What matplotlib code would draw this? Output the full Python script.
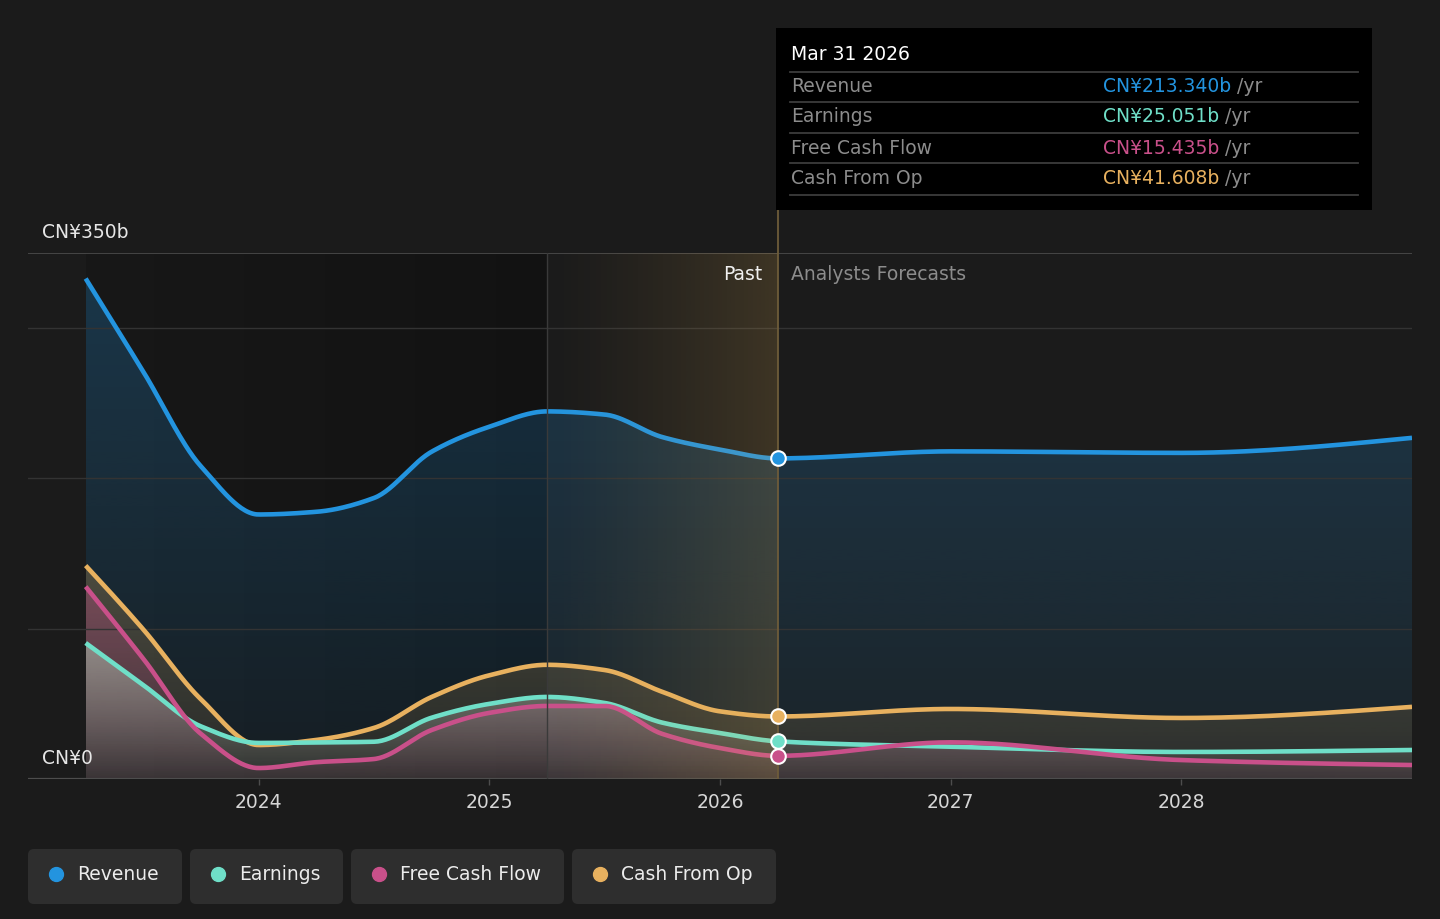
import numpy as np
import matplotlib
matplotlib.use('Agg')
import matplotlib.pyplot as plt
from matplotlib.patches import FancyBboxPatch, PathPatch
from matplotlib.path import Path
import matplotlib.colors as mcolors

# quarter ends (decimal years), past up to Mar 2026, then analyst forecasts
periods = [2023.25, 2023.5, 2023.75, 2024.0, 2024.25, 2024.5, 2024.75, 2025.0,
           2025.25, 2025.5, 2025.75, 2026.0, 2026.25, 2027.0, 2028.0, 2029.0]
revenue = [333, 271, 208, 176, 177.8, 187, 217.8, 234.4,
           244.6, 242.5, 227.5, 219.2, 213.34, 218, 217, 227]
earnings = [90.5, 62.5, 35, 24, 24.3, 24.8, 40.8, 50,
            54.6, 50.6, 37.5, 30.6, 25.051, 21.5, 18, 19.3]
fcf = [128, 80, 30, 7.3, 11.2, 13.3, 32.6, 44,
       48.6, 48.6, 30, 20.6, 15.435, 24.4, 12.6, 9.3]
cfo = [142, 99.5, 53, 22.6, 26, 34, 54.6, 69,
       76, 72.5, 58, 45, 41.608, 46.6, 40.6, 48]

names = ['Revenue', 'Earnings', 'Free Cash Flow', 'Cash From Op']
colors = ['#2394df', '#6fdfc8', '#c9508a', '#e8b15f']
tip_values = ['CN¥213.340b', 'CN¥25.051b', 'CN¥15.435b', 'CN¥41.608b']
tip_date = 'Mar 31 2026'
now = 2026.25
highlight_start = 2025.25
years = [2024, 2025, 2026, 2027, 2028]

BG = '#1b1b1b'
FS = 13.5


def monotone(x, y, n=30):
    # monotone cubic curve through the points (only for drawing)
    x = np.asarray(x, float)
    y = np.asarray(y, float)
    h = np.diff(x)
    d = np.diff(y) / h
    m = np.zeros_like(y)
    for i in range(1, len(y) - 1):
        if d[i - 1] * d[i] <= 0:
            m[i] = 0
        else:
            w1 = 2 * h[i] + h[i - 1]
            w2 = h[i] + 2 * h[i - 1]
            m[i] = (w1 + w2) / (w1 / d[i - 1] + w2 / d[i])
    m[0] = (3 * d[0] - m[1]) / 2
    m[-1] = (3 * d[-1] - m[-2]) / 2
    xs, ys = [], []
    for i in range(len(h)):
        s = np.linspace(0, 1, n, endpoint=(i == len(h) - 1))
        h00 = 2 * s**3 - 3 * s**2 + 1
        h10 = s**3 - 2 * s**2 + s
        h01 = -2 * s**3 + 3 * s**2
        h11 = s**3 - s**2
        xs.append(x[i] + s * h[i])
        ys.append(h00 * y[i] + h10 * h[i] * m[i] + h01 * y[i + 1] + h11 * h[i] * m[i + 1])
    return np.concatenate(xs), np.concatenate(ys)


def gradient_fill(ax, xs, ys, color, a_top, a_bot, vtop, z):
    verts = np.column_stack([np.r_[xs, xs[::-1]], np.r_[ys, np.zeros_like(ys)]])
    patch = PathPatch(Path(verts), transform=ax.transData, fc='none', ec='none')
    ax.add_patch(patch)
    img = np.zeros((256, 1, 4))
    img[:, 0, :3] = mcolors.to_rgb(color)
    img[:, 0, 3] = np.linspace(a_bot, a_top, 256)
    im = ax.imshow(img, extent=[xs[0], xs[-1], 0, vtop], origin='lower',
                   aspect='auto', zorder=z, interpolation='bilinear')
    im.set_clip_path(patch)


fig = plt.figure(figsize=(14.4, 9.19), dpi=100, facecolor=BG)
ax = fig.add_axes([28 / 1440, (919 - 779) / 919, 1384 / 1440, 526 / 919])
ax.set_facecolor(BG)

# darker past band
dark = np.zeros((1, 200, 4))
dark[0, :, 3] = np.linspace(0.12, 0.32, 200)
ax.imshow(dark, extent=[periods[0], highlight_start, 0, 350], aspect='auto',
          zorder=0.5, interpolation='bilinear')

# gridlines
for v in [100, 200, 300]:
    ax.axhline(v, color='#333333', lw=1, zorder=2)
ax.axhline(350, color='#4d4d4d', lw=1.2, zorder=2)
ax.axhline(0, color='#4d4d4d', lw=1.6, zorder=2)

curves = {}
for name, vals in zip(names, [revenue, earnings, fcf, cfo]):
    curves[name] = monotone(periods, vals)

gradient_fill(ax, *curves['Revenue'], colors[0], 0.26, 0.07, 350, 1.0)
gradient_fill(ax, *curves['Cash From Op'], colors[3], 0.26, 0.08, 150, 1.1)
gradient_fill(ax, *curves['Free Cash Flow'], colors[2], 0.36, 0.08, 130, 1.2)
gradient_fill(ax, *curves['Earnings'], '#9b9e96', 0.78, 0.06, 90, 1.3)

for name, c, z in [('Revenue', colors[0], 3), ('Cash From Op', colors[3], 3.1),
                   ('Earnings', colors[1], 3.2), ('Free Cash Flow', colors[2], 3.3)]:
    xs, ys = curves[name]
    ax.plot(xs, ys, color=c, lw=3.3, zorder=z, solid_capstyle='butt')

# highlight of the last year before now
hl = np.zeros((1, 200, 4))
hl[0, :, :3] = np.array([220, 170, 80]) / 255
hl[0, :, 3] = 0.18 * np.linspace(0, 1, 200) ** 1.2
ax.imshow(hl, extent=[highlight_start, now, 0, 350], aspect='auto',
          zorder=4, interpolation='bilinear')
ax.axvline(highlight_start, color='#3a3a3a', lw=1, zorder=4)
ax.vlines(now, 0, 350 + 43 / (526 / 350), color='#6e5c3a', lw=1.3,
          zorder=4, clip_on=False)

# markers at now
idx = periods.index(now)
for vals, c in zip([revenue, cfo, earnings, fcf], [colors[0], colors[3], colors[1], colors[2]]):
    ax.plot(now, vals[idx], 'o', ms=10.5, mfc=c, mec='white', mew=1.5, zorder=6)

ax.set_xlim(2023.0, 2029.0)
ax.set_ylim(0, 350)
ax.set_xticks(years)
ax.set_xticklabels([str(y) for y in years])
ax.set_yticks([])
ax.tick_params(axis='x', length=4, width=1, color='#4d4d4d', labelcolor='#d6d6d6',
               labelsize=FS, pad=6)
for s in ax.spines.values():
    s.set_visible(False)

# overlay in pixel coordinates
ov = fig.add_axes([0, 0, 1, 1], zorder=10)
ov.set_xlim(0, 1440)
ov.set_ylim(919, 0)
ov.axis('off')
ov.patch.set_alpha(0)

ov.text(42, 232, 'CN¥350b', color='#e6e6e6', fontsize=FS, va='center')
ov.text(42, 758, 'CN¥0', color='#e6e6e6', fontsize=FS, va='center')
ov.text(762, 274, 'Past', color='#f0f0f0', fontsize=FS, va='center', ha='right')
ov.text(791, 274, 'Analysts Forecasts', color='#8c8c8c', fontsize=FS, va='center')

# tooltip
ov.add_patch(FancyBboxPatch((776, 28), 596, 182, boxstyle='square,pad=0',
                            fc='#000000', ec='none'))
ov.text(791, 55, tip_date, color='white', fontsize=FS, va='center')
row_y = [87, 117, 148, 178]
for yl in [72, 102, 133, 163, 195]:
    ov.plot([790, 1358], [yl, yl], color='#3c3c3c', lw=1.3)
for y0, name, val, c in zip(row_y, names, tip_values, colors):
    ov.text(791, y0, name, color='#8c8c8c', fontsize=FS, va='center')
    t = ov.text(1103, y0, val, color=c, fontsize=FS, va='center')
    ov.annotate(' /yr', xycoords=t, xy=(1, 0.5), va='center', ha='left',
                color='#8c8c8c', fontsize=FS)

# legend chips
chips = [(28, 154), (190, 153), (351, 213), (572, 204)]
for (x0, w), name, c in zip(chips, names, colors):
    ov.add_patch(FancyBboxPatch((x0, 849), w, 55, boxstyle='round,pad=0,rounding_size=6',
                                fc='#2e2e2e', ec='none'))
    ov.plot(x0 + 28, 874, 'o', ms=10, color=c)
    ov.text(x0 + 49, 874, name, color='#ececec', fontsize=FS, va='center')

fig.savefig('out.png', dpi=100, facecolor=BG)
